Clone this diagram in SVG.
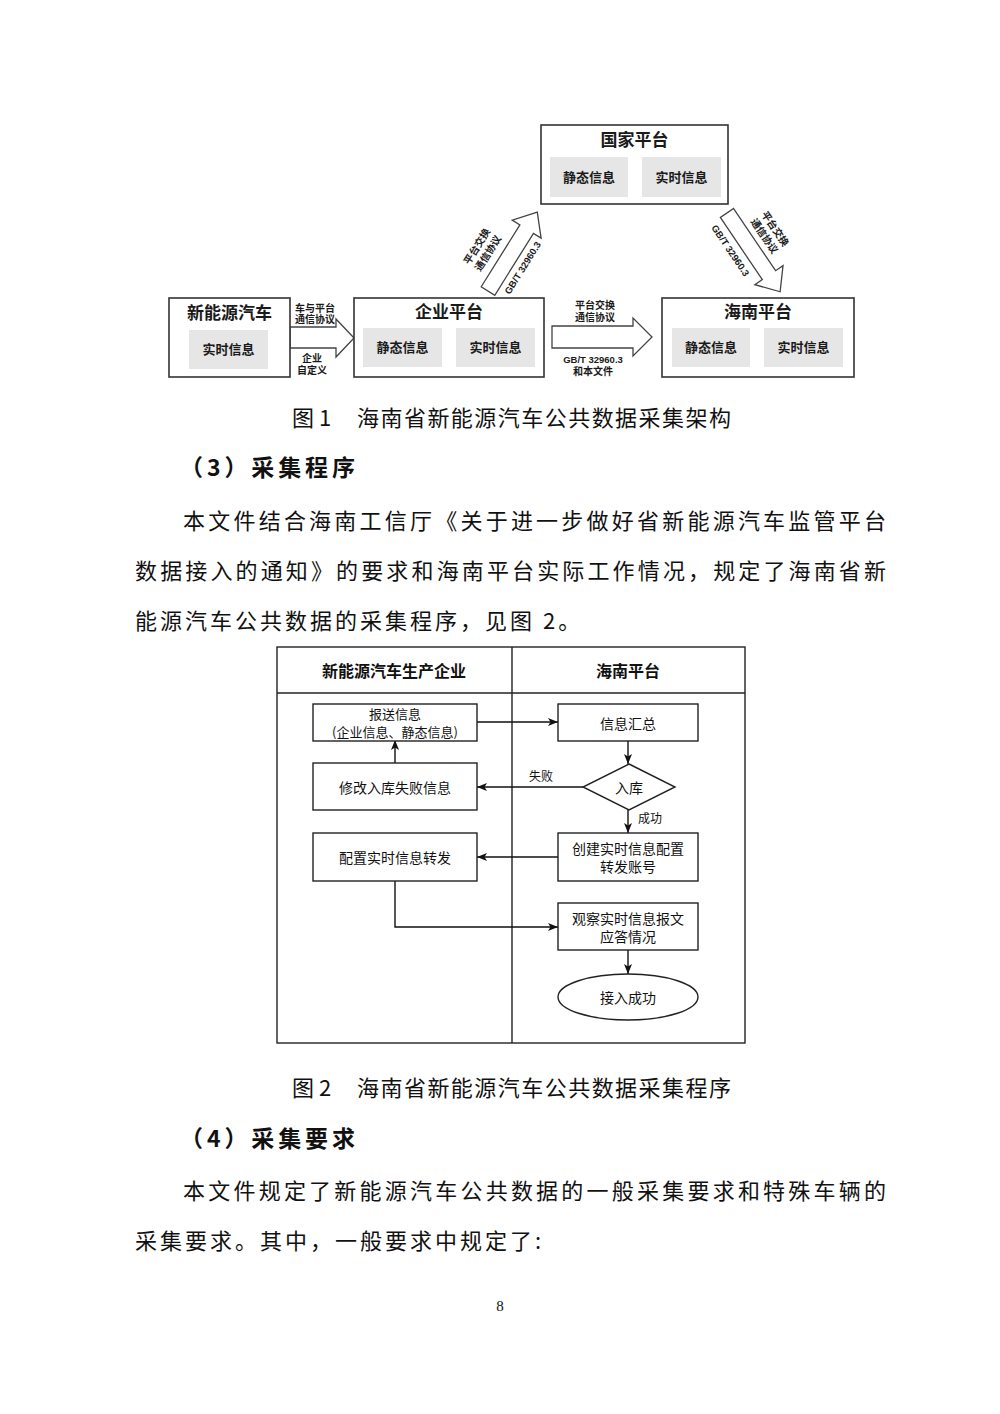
<svg xmlns="http://www.w3.org/2000/svg" width="1000" height="1414" viewBox="0 0 1000 1414">
<defs>
<marker id="ah" viewBox="0 0 10 8" refX="10" refY="4" markerWidth="10" markerHeight="8" markerUnits="userSpaceOnUse" orient="auto">
<path d="M0,0 L10,4 L0,8 L2.5,4 z" fill="#111"/>
</marker>
</defs>
<style>
.bx{fill:#fff;stroke:#333;stroke-width:1.6}
.gr{fill:#e6e6e6}
.ar{fill:#fff;stroke:#444;stroke-width:1.3}
.t1{font-family:"Liberation Sans","Noto Sans CJK SC",sans-serif;font-weight:bold;fill:#1a1a1a;text-anchor:middle;dominant-baseline:central}
.ttl{font-size:17px}
.in{font-size:13px}
.sm{font-size:10px}
.lat{font-size:9.5px}
.f2{fill:#fff;stroke:#222;stroke-width:1.4}
.t2{font-family:"Noto Sans CJK SC",sans-serif;font-size:14px;fill:#111;text-anchor:middle;dominant-baseline:central}
.t2s{font-size:13px}
.hd{font-weight:bold;font-size:16px}
.lb{font-size:12px}
.cn{fill:none;stroke:#111;stroke-width:1.4;marker-end:url(#ah)}
.body{font-family:"Noto Sans CJK SC",sans-serif;font-size:22px;fill:#111;dominant-baseline:central}
.sp{letter-spacing:3px}
.cap{font-family:"Noto Sans CJK SC",sans-serif;font-size:22px;fill:#111;dominant-baseline:central}
.sec{font-family:"Noto Sans CJK SC",sans-serif;font-size:23px;font-weight:bold;fill:#111;dominant-baseline:central}
.pg{font-family:"Liberation Serif",serif;font-size:15px;fill:#111;text-anchor:middle;dominant-baseline:central}
</style>
<rect width="1000" height="1414" fill="#fff"/>

<!-- Figure 1 -->
<g id="fig1-connectors">
  <polygon class="ar" points="290,327 336,327 336,319 354,338 336,357 336,348 290,348"/>
  <text class="t1 sm" x="315" y="308">车与平台</text>
  <text class="t1 sm" x="315" y="319">通信协议</text>
  <text class="t1 sm" x="312" y="358">企业</text>
  <text class="t1 sm" x="312" y="370">自定义</text>

  <polygon class="ar" points="552,326 633,326 633,318 652,337 633,356 633,348 552,348"/>
  <text class="t1 sm" x="595" y="305">平台交换</text>
  <text class="t1 sm" x="595" y="317">通信协议</text>
  <text class="t1 lat" x="593" y="359">GB/T 32960.3</text>
  <text class="t1 sm" x="593" y="371">和本文件</text>

  <g transform="translate(488,291) rotate(-58)">
    <polygon class="ar" points="0,-8 73,-8 73,-17 93,0 73,17 73,8 0,8"/>
    <text class="t1 sm" x="32" y="-33">平台交换</text>
    <text class="t1 sm" x="32" y="-20">通信协议</text>
    <text class="t1 lat" x="38" y="17">GB/T 32960.3</text>
  </g>
  <g transform="translate(727,213) rotate(56)">
    <polygon class="ar" points="0,-8 75,-8 75,-17 95,0 75,17 75,8 0,8"/>
    <text class="t1 sm" x="40" y="-31">平台交换</text>
    <text class="t1 sm" x="40" y="-18">通信协议</text>
    <text class="t1 lat" x="33" y="18">GB/T 32960.3</text>
  </g>
</g>

<g id="n-ev">
  <rect class="bx" x="169" y="298" width="121" height="79"/>
  <text class="t1 ttl" x="229.5" y="313">新能源汽车</text>
  <rect class="gr" x="189" y="330" width="79" height="39"/>
  <text class="t1 in" x="228.5" y="349.5">实时信息</text>
</g>
<g id="n-ent">
  <rect class="bx" x="354" y="298" width="190" height="79"/>
  <text class="t1 ttl" x="449" y="312">企业平台</text>
  <rect class="gr" x="363" y="328" width="79" height="39"/>
  <text class="t1 in" x="402.5" y="347.5">静态信息</text>
  <rect class="gr" x="456" y="328" width="79" height="39"/>
  <text class="t1 in" x="495.5" y="347.5">实时信息</text>
</g>
<g id="n-nat">
  <rect class="bx" x="541" y="125" width="187" height="79"/>
  <text class="t1 ttl" x="634.5" y="140">国家平台</text>
  <rect class="gr" x="550" y="157" width="78" height="40"/>
  <text class="t1 in" x="589" y="177">静态信息</text>
  <rect class="gr" x="642" y="157" width="79" height="40"/>
  <text class="t1 in" x="681.5" y="177">实时信息</text>
</g>
<g id="n-hn">
  <rect class="bx" x="662" y="298" width="192" height="79"/>
  <text class="t1 ttl" x="758" y="312">海南平台</text>
  <rect class="gr" x="672" y="328" width="78" height="39"/>
  <text class="t1 in" x="711" y="347.5">静态信息</text>
  <rect class="gr" x="764" y="328" width="79" height="39"/>
  <text class="t1 in" x="803.5" y="347.5">实时信息</text>
</g>

<text class="cap" x="292" y="416">图 1</text>
<text class="cap" x="357" y="416" textLength="374" lengthAdjust="spacing">海南省新能源汽车公共数据采集架构</text>

<text class="sec" x="180" y="466" textLength="175" lengthAdjust="spacing">（3）采集程序</text>
<text class="body" x="183" y="519" textLength="703" lengthAdjust="spacing">本文件结合海南工信厅《关于进一步做好省新能源汽车监管平台</text>
<text class="body" x="135" y="569" textLength="751" lengthAdjust="spacing">数据接入的通知》的要求和海南平台实际工作情况，规定了海南省新</text>
<text class="body sp" x="135" y="619">能源汽车公共数据的采集程序，见图 2。</text>

<!-- Figure 2 -->
<g id="lanes">
  <rect class="f2" x="277" y="647" width="468" height="396"/>
  <line x1="512" y1="647" x2="512" y2="1043" stroke="#222" stroke-width="1.4"/>
  <line x1="277" y1="693" x2="745" y2="693" stroke="#222" stroke-width="1.4"/>
  <text class="t2 hd" x="394" y="670">新能源汽车生产企业</text>
  <text class="t2 hd" x="628" y="670">海南平台</text>
</g>

<g id="fig2-connectors">
  <line class="cn" x1="477" y1="722" x2="558" y2="722"/>
  <line class="cn" x1="395" y1="763" x2="395" y2="740"/>
  <line class="cn" x1="628" y1="740" x2="628" y2="764"/>
  <line class="cn" x1="583" y1="787" x2="477" y2="787"/>
  <text class="t2 lb" x="541" y="775">失败</text>
  <line class="cn" x1="628" y1="810" x2="628" y2="833"/>
  <text class="t2 lb" x="650" y="817">成功</text>
  <line class="cn" x1="558" y1="857" x2="477" y2="857"/>
  <polyline class="cn" points="395,881 395,927 558,927"/>
  <line class="cn" x1="628" y1="950" x2="628" y2="974"/>
</g>

<g id="s-report">
  <rect class="f2" x="313" y="704" width="164" height="37"/>
  <text class="t2 t2s" x="395" y="713.5">报送信息</text>
  <text class="t2 t2s" x="395" y="731.5">(企业信息、静态信息)</text>
</g>
<g id="s-fix">
  <rect class="f2" x="313" y="763" width="164" height="47"/>
  <text class="t2" x="395" y="786.5">修改入库失败信息</text>
</g>
<g id="s-config">
  <rect class="f2" x="313" y="833" width="164" height="48"/>
  <text class="t2" x="395" y="857">配置实时信息转发</text>
</g>
<g id="s-collect">
  <rect class="f2" x="558" y="704" width="140" height="37"/>
  <text class="t2" x="628" y="722.5">信息汇总</text>
</g>
<g id="s-store">
  <polygon class="f2" points="629,764 675,787 629,810 583,787"/>
  <text class="t2" x="629" y="787">入库</text>
</g>
<g id="s-account">
  <rect class="f2" x="558" y="833" width="140" height="48"/>
  <text class="t2" x="628" y="848">创建实时信息配置</text>
  <text class="t2" x="628" y="866">转发账号</text>
</g>
<g id="s-observe">
  <rect class="f2" x="558" y="903" width="140" height="47"/>
  <text class="t2" x="628" y="918">观察实时信息报文</text>
  <text class="t2" x="628" y="936">应答情况</text>
</g>
<g id="s-done">
  <ellipse class="f2" cx="628" cy="997" rx="70" ry="23"/>
  <text class="t2" x="628" y="997">接入成功</text>
</g>

<text class="cap" x="292" y="1086">图 2</text>
<text class="cap" x="357" y="1086" textLength="374" lengthAdjust="spacing">海南省新能源汽车公共数据采集程序</text>

<text class="sec" x="180" y="1137" textLength="175" lengthAdjust="spacing">（4）采集要求</text>
<text class="body" x="183" y="1189" textLength="703" lengthAdjust="spacing">本文件规定了新能源汽车公共数据的一般采集要求和特殊车辆的</text>
<text class="body sp" x="135" y="1239">采集要求。其中，一般要求中规定了:</text>

<text class="pg" x="500" y="1306">8</text>
</svg>
